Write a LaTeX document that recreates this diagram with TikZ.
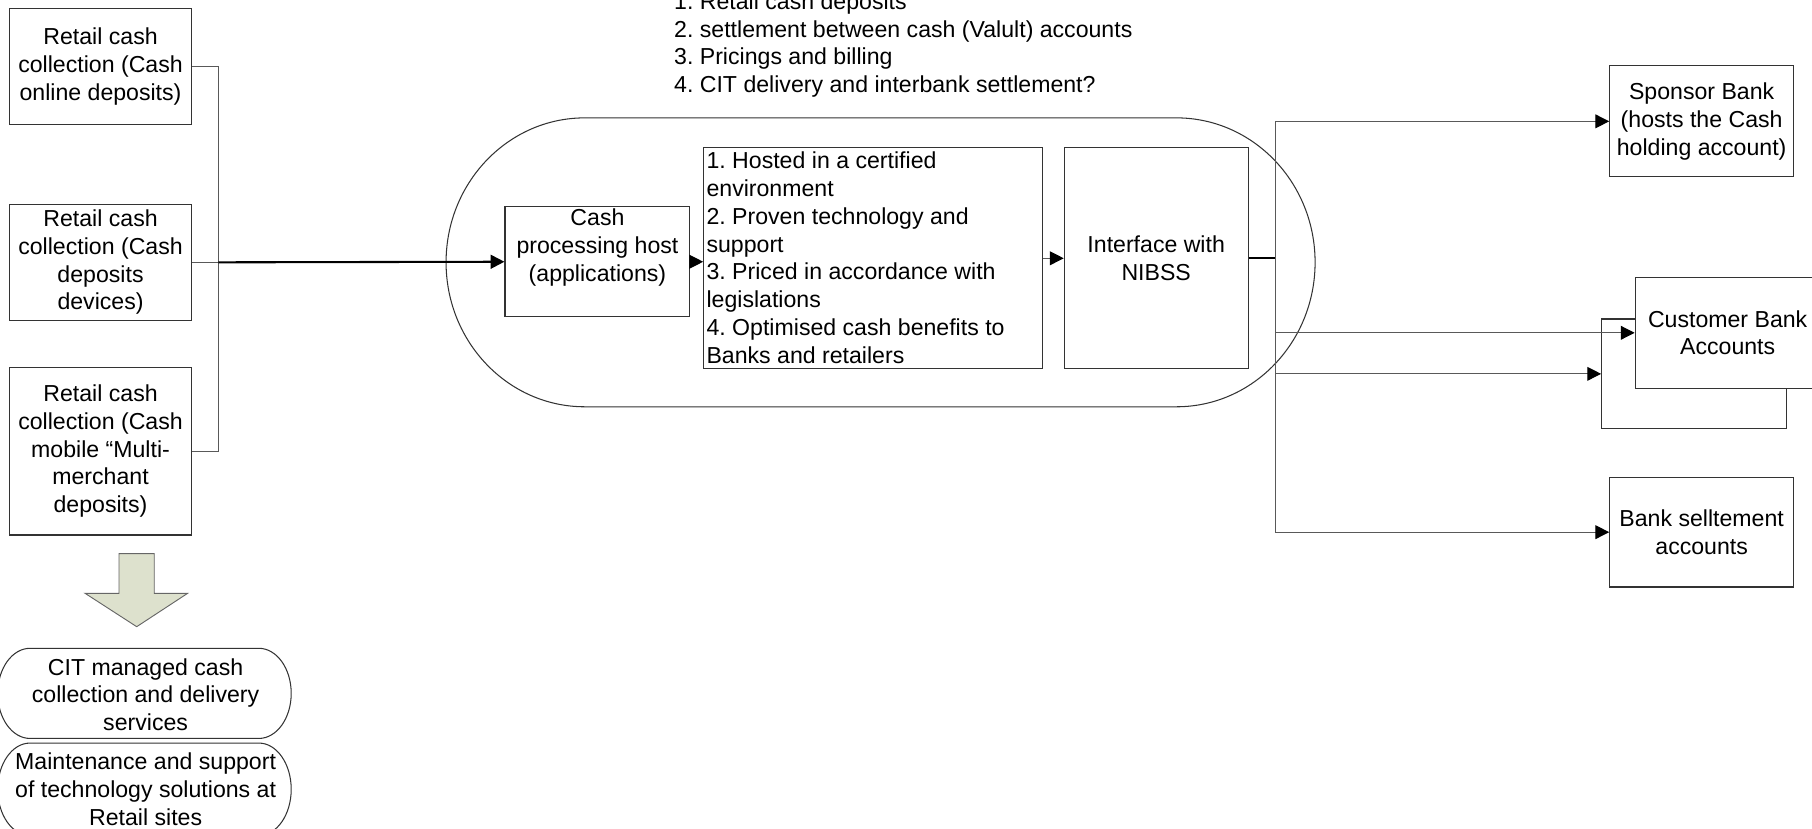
\documentclass[tikz,border=0pt]{standalone}
\usepackage{fontspec}
\setmainfont{Liberation Sans}
\usetikzlibrary{arrows.meta,calc}
\definecolor{arrowfill}{RGB}{221,225,205}
\frenchspacing
\newcommand\stadpath[6]{% x1,y1,x2,y2,rx,ry
 ({#1+#5},#2) -- ({#3-#5},#2)
 .. controls ({#3-#5+0.5523*#5},#2) and (#3,{(#2+#4)/2-0.5523*#6}) .. (#3,{(#2+#4)/2})
 .. controls (#3,{(#2+#4)/2+0.5523*#6}) and ({#3-#5+0.5523*#5},#4) .. ({#3-#5},#4)
 -- ({#1+#5},#4)
 .. controls ({#1+#5-0.5523*#5},#4) and (#1,{(#2+#4)/2+0.5523*#6}) .. (#1,{(#2+#4)/2})
 .. controls (#1,{(#2+#4)/2-0.5523*#6}) and ({#1+#5-0.5523*#5},#2) .. cycle}
\begin{document}
\begin{tikzpicture}[x=0.5pt,y=-0.5pt,
  every node/.style={font=\fontsize{10}{12}\selectfont, inner sep=0pt, align=center},
  box/.style={draw=black!80, line width=0.5pt, fill=white},
  conn/.style={draw=black!65, line width=0.5pt},
  mainline/.style={draw=black, line width=0.9pt},
  tip/.style={-{Triangle[length=6pt,width=6pt,black]}},
  shapeline/.style={draw=black!80, line width=0.45pt}
]
\useasboundingbox (0,0) rectangle (1568,717);
\clip (0,0) rectangle (1568,717);

% big rounded container
\draw[shapeline] \stadpath{386}{102}{1138}{352}{120}{125};

% top notes
\node[anchor=west, align=left] (notes) at (583,39) {1. Retail cash deposits\\2. settlement between cash (Valult) accounts\\3. Pricings and billing\\4. CIT delivery and interbank settlement?};

% left boxes
\node[box, minimum width=79pt, minimum height=50.5pt] (b1) at (87,57.5) {Retail cash\\collection (Cash\\online deposits)};
\node[box, minimum width=79pt, minimum height=50pt] (b2) at (87,227) {Retail cash\\collection (Cash\\deposits\\devices)};
\node[box, minimum width=79pt, minimum height=72.5pt] (b3) at (87,390.5) {Retail cash\\collection (Cash\\mobile “Multi-\\merchant\\deposits)};

% centre boxes
\node[box, minimum width=80pt, minimum height=47.5pt] (host) at (517,226.5) {};
\node (hosttext) at (517,214) {Cash\\processing host\\(applications)};
\node[box, minimum width=146.5pt, minimum height=95.5pt] (list) at (755.5,223.5) {};
\node[anchor=west, align=left] (listtext) at (611,223) {1. Hosted in a certified\\environment\\2. Proven technology and\\support\\3. Priced in accordance with\\legislations\\4. Optimised cash benefits to\\Banks and retailers};
\node[box, minimum width=79.5pt, minimum height=95.5pt] (nibss) at (1000.5,223.5) {Interface with\\NIBSS};

% right boxes
\node[box, minimum width=79.5pt, minimum height=48pt] (sponsor) at (1472.5,105) {Sponsor Bank\\(hosts the Cash\\holding account)};
\node[box, minimum width=80pt, minimum height=47.5pt] (back) at (1466,323.5) {};
\node[box, minimum width=80pt, minimum height=48pt] (front) at (1495,288) {Customer Bank\\Accounts};
\node[box, minimum width=79.5pt, minimum height=47.5pt] (settle) at (1472.5,460.5) {Bank selltement\\accounts};

% left connectors
\coordinate (jl) at (189,227);
\draw[conn] (b1.east) -| (jl) |- (b3.east);
\draw[conn] (b2.east) -- (jl);
\draw[mainline, tip] (jl) -- (host.west);
\draw[conn, tip] (host.east) -- (host.east -| list.west);
\draw[conn, tip] (list.east) -- (nibss.west);

% right connectors
\coordinate (jr) at (1104,223.5);
\draw[mainline] (nibss.east) -- (jr);
\draw[conn, tip] (jr) |- (sponsor.west);
\draw[conn, tip] (jr) |- (settle.west);
\draw[conn, tip] (jr) |- (front.west);
\draw[conn, tip] (jr) |- (back.west);

% block arrow
\draw[draw=black!60, fill=arrowfill, line width=0.4pt] (103,479) -- (133.5,479) -- (133.5,513.4) -- (162.4,513.4) -- (118.3,542.3) -- (73.6,513.4) -- (103,513.4) -- cycle;

% bottom rounded shapes
\draw[shapeline] \stadpath{-2}{561}{252}{639}{28}{39};
\node (cit) at (126,601) {CIT managed cash\\collection and delivery\\services};
\draw[shapeline] \stadpath{-2}{643}{252}{723}{28}{40};
\node (maint) at (126,683) {Maintenance and support\\of technology solutions at\\Retail sites};
\end{tikzpicture}
\end{document}
